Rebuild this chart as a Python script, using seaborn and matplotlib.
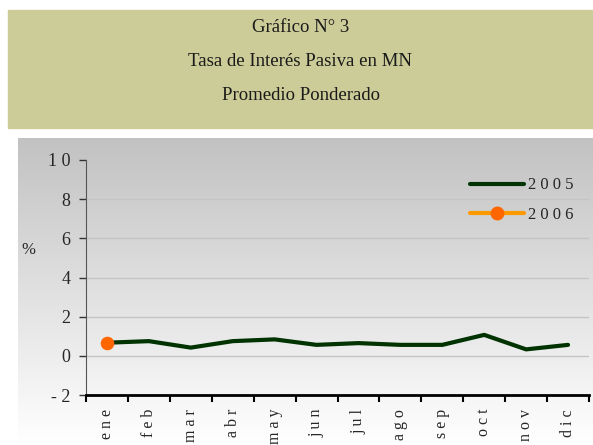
import numpy as np
import pandas as pd
import seaborn as sns
import matplotlib.pyplot as plt
from matplotlib.patches import Rectangle
from matplotlib.lines import Line2D

meses = ['ene', 'feb', 'mar', 'abr', 'may', 'jun',
         'jul', 'ago', 'sep', 'oct', 'nov', 'dic']
tasa_2005 = [0.67, 0.75, 0.42, 0.75, 0.84, 0.56,
             0.65, 0.56, 0.56, 1.07, 0.33, 0.56]
tasa_2006 = [0.67]
y_ticks = [-2, 0, 2, 4, 6, 8, 10]
titulos = ['Gráfico N° 3', 'Tasa de Interés Pasiva en MN', 'Promedio Ponderado']


def spaced(s):
    # Excel-style letter spacing
    return ' '.join(str(s))


sns.set_style('white')
plt.rcParams['font.family'] = ['Liberation Serif', 'DejaVu Serif']

fig = plt.figure(figsize=(5.93, 4.45), dpi=100)
W, H = 593, 445

# title banner
fig.patches.append(Rectangle((8 / W, 1 - 128 / H), 585 / W, 118 / H,
                             transform=fig.transFigure, color='#CCCC99', zorder=0))
for i, t in enumerate(titulos):
    fig.text(0.5 * (8 + 593) / W, 1 - (28 + 34 * i) / H, t, ha='center', va='center',
             fontsize=13.5, color='#1a1a1a')

# gradient background behind the chart
bg = fig.add_axes([18 / W, 0, 1 - 18 / W, 1 - 138 / H], zorder=0)
grad = np.linspace(0.76, 1.0, 256).reshape(-1, 1)
bg.imshow(np.dstack([grad, grad, grad]), aspect='auto', extent=[0, 1, 0, 1], origin='upper')
bg.axis('off')

ax = fig.add_axes([86 / W, 1 - 395 / H, (589 - 86) / W, (395 - 160) / H], zorder=1)
ax.patch.set_alpha(0)

df05 = pd.DataFrame({'x': np.arange(len(tasa_2005)), 'v': tasa_2005})
df06 = pd.DataFrame({'x': np.arange(len(tasa_2006)), 'v': tasa_2006})
sns.lineplot(data=df05, x='x', y='v', ax=ax, color='#003300', linewidth=3, zorder=3)
sns.lineplot(data=df06, x='x', y='v', ax=ax, color='#FF9900', linewidth=3,
             marker='o', markersize=9, markerfacecolor='#FF6600',
             markeredgecolor='#FF6600', zorder=4)

ax.set_xlim(-0.5, len(meses) - 0.5)
ax.set_ylim(-2, 10)
ax.set_yticks(y_ticks)
ax.set_yticklabels([spaced(v) for v in y_ticks], fontsize=13)
for v in y_ticks[1:-1]:
    ax.axhline(v, color='#C4C4C4', linewidth=1, zorder=1)

ax.set_xticks(np.arange(-0.5, len(meses), 1.0))
ax.set_xticklabels([])
ax.set_xticks(np.arange(len(meses)), minor=True)
ax.set_xticklabels([spaced(m) for m in meses], minor=True, rotation=90, fontsize=11.5)
ax.tick_params(axis='x', which='major', bottom=True, direction='out', length=5,
               width=1.5, color='black')
ax.tick_params(axis='x', which='minor', bottom=True, length=0, pad=10)
ax.tick_params(axis='y', left=True, direction='out', length=5, width=1,
               color='#333333', pad=6)

for s in ['top', 'right']:
    ax.spines[s].set_visible(False)
ax.spines['left'].set_color('#555555')
ax.spines['bottom'].set_color('black')
ax.spines['bottom'].set_linewidth(2)
ax.set_xlabel('')
ax.set_ylabel('')
fig.text(28 / W, 1 - 250 / H, '%', fontsize=12, ha='center', va='center')

handles = [Line2D([], [], color='#003300', linewidth=3),
           Line2D([], [], color='#FF9900', linewidth=3, marker='o', markersize=9,
                  markerfacecolor='#FF6600', markeredgecolor='#FF6600')]
ax.legend(handles, [spaced('2005'), spaced('2006')], loc='upper right',
          bbox_to_anchor=(1.0, 0.99), frameon=False, fontsize=12,
          handlelength=3.2, handletextpad=0.3, labelspacing=0.8)

fig.savefig('out.png', dpi=100)
